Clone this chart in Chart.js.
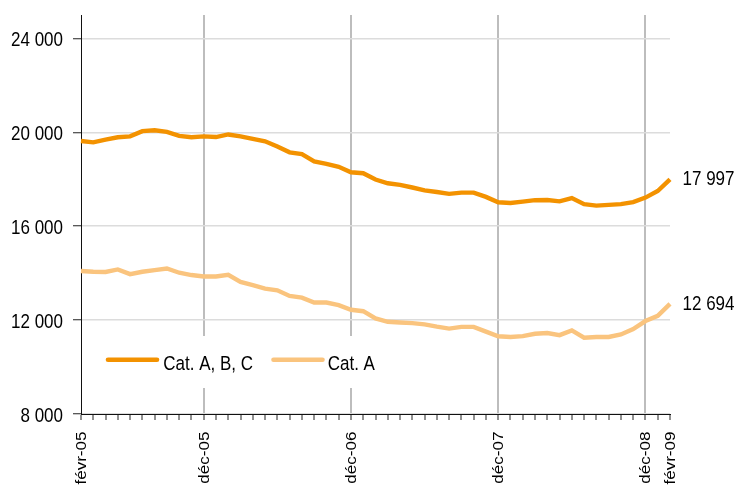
<!DOCTYPE html>
<html>
<head>
<meta charset="utf-8">
<script src="https://cdn.jsdelivr.net/npm/chart.js@4.4.0/dist/chart.umd.min.js"></script>
<style>
html,body{margin:0;padding:0;background:#fff;}
#wrap{width:734px;height:486px;position:relative;}
</style>
</head>
<body>
<div id="wrap"><canvas id="c" width="734" height="486"></canvas></div>
<script>
const months = ['janv','févr','mars','avr','mai','juin','juil','août','sept','oct','nov','déc'];
const categories = [];
for (let y = 5; y <= 9; y++) {
  for (let m = 0; m < 12; m++) {
    if (y === 5 && m < 1) continue;
    if (y === 9 && m > 1) continue;
    categories.push(months[m] + '-0' + y);
  }
}
const shownLabels = ['févr-05','déc-05','déc-06','déc-07','déc-08','févr-09'];
const gridMonths = ['déc-05','déc-06','déc-07','déc-08'];
const yTicks = [8000, 12000, 16000, 20000, 24000];

const catABC = [19630,19575,19690,19790,19830,20050,20090,20020,19850,19790,
                19830,19800,19910,19830,19720,19620,19400,19150,19070,18760,
                18660,18530,18300,18260,17990,17830,17760,17650,17530,17460,
                17380,17430,17430,17250,17020,16990,17050,17110,17120,17060,
                17200,16940,16880,16910,16940,17030,17220,17500,17997];
const catA = [14090,14060,14050,14160,13960,14060,14130,14200,14020,13920,
              13860,13860,13930,13630,13490,13340,13270,13030,12960,12750,
              12750,12640,12440,12380,12070,11930,11900,11870,11820,11720,
              11640,11710,11710,11510,11310,11280,11320,11420,11450,11360,
              11560,11250,11280,11280,11390,11620,11960,12180,12694];
const seriesNames = ['Cat. A, B, C', 'Cat. A'];
const endLabels = ['17 997', '12 694'];

const FONT = '"Liberation Sans", Arial, sans-serif';
const C1 = '#F39200';
const C2 = '#FAC47E';
const TXT = '#000';

function fmt(v){ return String(v).replace(/\B(?=(\d{3})+(?!\d))/g, ' '); }

// draws text with a stretch (the reference picture is stretched vertically)
function txt(ctx, s, x, y, align, size, sx, sy, rot) {
  ctx.save();
  ctx.translate(x, y);
  if (rot) ctx.rotate(-Math.PI / 2);
  ctx.scale(sx, sy);
  ctx.font = size + 'px ' + FONT;
  ctx.fillStyle = TXT;
  ctx.textAlign = align;
  ctx.textBaseline = 'alphabetic';
  ctx.fillText(s, 0, 0);
  ctx.restore();
}

const overlay = {
  id: 'overlay',
  afterDraw(chart) {
    const ctx = chart.ctx;
    const xs = chart.scales.x;
    const ys = chart.scales.y;
    const area = chart.chartArea;
    ys.ticks.forEach(t => {
      txt(ctx, fmt(t.value), 63, ys.getPixelForValue(t.value) + 7.5, 'right', 17, 1, 1.23, false);
    });
    categories.forEach((c, i) => {
      if (!shownLabels.includes(c)) return;
      txt(ctx, c, xs.getPixelForTick(i) + 5, 431.5, 'right', 15.5, 1.1, 1, true);
    });
    chart.data.datasets.forEach((ds, i) => {
      const v = ds.data[ds.data.length - 1];
      txt(ctx, endLabels[i], area.right + 12.5, ys.getPixelForValue(v) + 6, 'left', 17, 1, 1.23, false);
    });
    ctx.save();
    ctx.fillStyle = '#fff';
    ctx.fillRect(96, 336, 298, 52);
    const items = [{x:108, c:C1, t:seriesNames[0], tx:163.3}, {x:273.5, c:C2, t:seriesNames[1], tx:327.7}];
    items.forEach(it => {
      ctx.strokeStyle = it.c;
      ctx.lineWidth = 4.6;
      ctx.lineCap = 'round';
      ctx.beginPath();
      ctx.moveTo(it.x, 359.7);
      ctx.lineTo(it.x + 49, 359.7);
      ctx.stroke();
    });
    ctx.restore();
    items.forEach(it => txt(ctx, it.t, it.tx, 370, 'left', 17, 1, 1.23, false));
  }
};

new Chart(document.getElementById('c'), {
  type: 'line',
  data: {
    labels: categories,
    datasets: [
      {label: seriesNames[0], data: catABC, borderColor: C1, borderWidth: 4.4, pointRadius: 0, tension: 0, fill: false},
      {label: seriesNames[1], data: catA, borderColor: C2, borderWidth: 4.4, pointRadius: 0, tension: 0, fill: false}
    ]
  },
  options: {
    responsive: false,
    animation: false,
    layout: {padding: {top: 15, right: 64, left: 0, bottom: 0}},
    plugins: {legend: {display: false}, tooltip: {enabled: false}},
    scales: {
      x: {
        offset: false,
        grid: {
          display: true,
          drawOnChartArea: true,
          color: (c) => (c.tick && gridMonths.includes(categories[c.index])) ? '#bdbdbd' : 'rgba(0,0,0,0)',
          lineWidth: 2,
          tickColor: '#222',
          tickLength: 6,
          tickWidth: 1
        },
        border: {display: true, color: '#111', width: 1},
        ticks: {display: false, autoSkip: false},
        afterFit(s) { s.height = 72; }
      },
      y: {
        min: 8000,
        max: 25000,
        afterBuildTicks(s) { s.ticks = yTicks.map(v => ({value: v})); },
        grid: {
          color: '#dcdcdc',
          lineWidth: 1.5,
          tickColor: '#222',
          tickLength: 8,
          tickWidth: 1
        },
        border: {display: true, color: '#111', width: 1},
        ticks: {display: false},
        afterFit(s) { s.width = 81; }
      }
    }
  },
  plugins: [overlay]
});
</script>
</body>
</html>
